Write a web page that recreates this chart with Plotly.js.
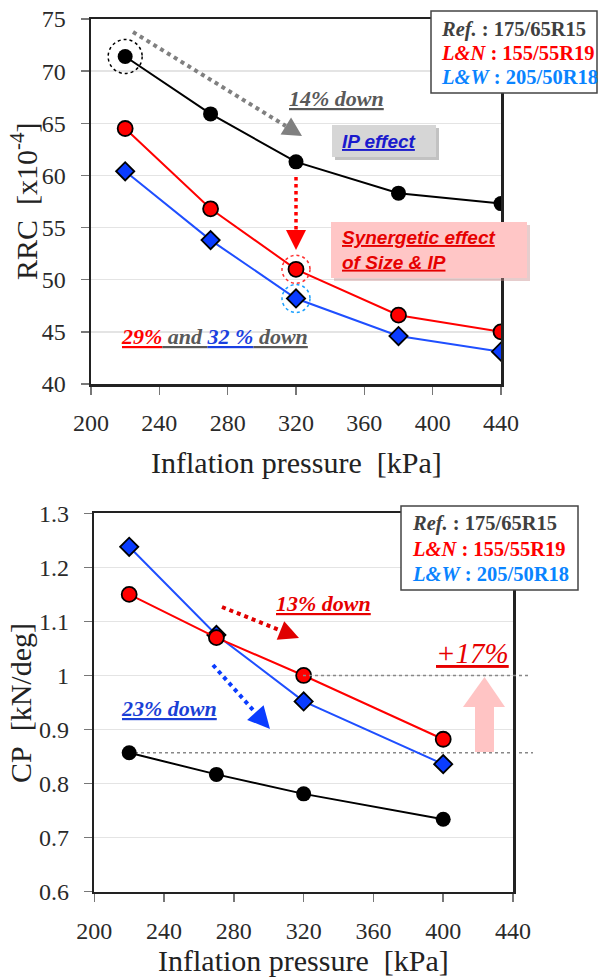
<!DOCTYPE html>
<html>
<head>
<meta charset="utf-8">
<script src="https://cdn.plot.ly/plotly-3.0.1.min.js"></script>
<style>html,body{margin:0;padding:0;background:#fff;}#chart{width:598px;height:977px;}</style>
</head>
<body>
<div id="chart"></div>
<script>
// ---------- data ----------
const pressureTop = [220, 270, 320, 380, 440];
const rrcRef = [71.4, 65.9, 61.3, 58.3, 57.3];
const rrcLN  = [64.5, 56.8, 51.0, 46.6, 45.0];
const rrcLW  = [60.4, 53.8, 48.2, 44.6, 43.1];

const pressureBottom = [220, 270, 320, 400];
const cpRef = [0.857, 0.817, 0.781, 0.734];
const cpLN  = [1.150, 1.070, 1.000, 0.882];
const cpLW  = [1.238, 1.075, 0.952, 0.836];

const xTicks = [200, 240, 280, 320, 360, 400, 440];
const rrcTicks = [40, 45, 50, 55, 60, 65, 70, 75];
const cpTicks = [0.6, 0.7, 0.8, 0.9, 1.0, 1.1, 1.2, 1.3];

const legendLabels = ['Ref.', 'L&amp;N', 'L&amp;W'];
const legendSizes = ['175/65R15', '155/55R19', '205/50R18'];
const legendColors = ['#404040', '#ff0000', '#0a84ff'];

// ---------- helpers (pixel -> paper) ----------
const W = 598, H = 977;
const X = p => p / W;
const Y = p => 1 - p / H;

function head(tipX, tipY, angDeg, len, half) {
  const a = angDeg * Math.PI / 180, ux = Math.cos(a), uy = Math.sin(a);
  const bx = tipX - len * ux, by = tipY - len * uy;
  const p1 = [bx - half * uy, by + half * ux], p2 = [bx + half * uy, by - half * ux];
  return 'M' + X(tipX) + ',' + Y(tipY) + ' L' + X(p1[0]) + ',' + Y(p1[1]) + ' L' + X(p2[0]) + ',' + Y(p2[1]) + ' Z';
}
function dottedArrow(x0, y0, tipX, tipY, len, half, color, w) {
  const ang = Math.atan2(tipY - y0, tipX - x0) * 180 / Math.PI;
  const a = ang * Math.PI / 180;
  const bx = tipX - len * Math.cos(a), by = tipY - len * Math.sin(a);
  return [
    {type: 'line', xref: 'paper', yref: 'paper', x0: X(x0), y0: Y(y0), x1: X(bx), y1: Y(by),
     line: {color: color, width: w, dash: w + 'px,' + w + 'px'}, layer: 'above'},
    {type: 'path', xref: 'paper', yref: 'paper', path: head(tipX, tipY, ang, len, half),
     fillcolor: color, line: {width: 0}, layer: 'above'}
  ];
}
function rectPx(x0, y0, x1, y1, fill, opacity, line) {
  return {type: 'rect', xref: 'paper', yref: 'paper', x0: X(x0), y0: Y(y1), x1: X(x1), y1: Y(y0),
          fillcolor: fill, opacity: opacity === undefined ? 1 : opacity, line: line || {width: 0}, layer: 'above'};
}
function ring(xref, yref, xv, yv, r, color) {
  return {type: 'circle', xref: xref, yref: yref, xsizemode: 'pixel', ysizemode: 'pixel',
          xanchor: xv, yanchor: yv, x0: -r, x1: r, y0: -r, y1: r,
          line: {color: color, width: 1.5, dash: 'dot'}, layer: 'above'};
}

// ---------- colours / fonts ----------
const cBlack = '#000000', cRed = '#ff0000', cBlue = '#1f4fff';
const serif = 'Liberation Serif';
const sans = 'Liberation Sans';

function series(x, y, xa, ya, color, sym, mcolor, msize, outline) {
  return {x: x, y: y, xaxis: xa, yaxis: ya, type: 'scatter', mode: 'lines+markers',
          line: {color: color, width: 2},
          marker: {symbol: sym, size: msize, color: mcolor, line: {color: '#000', width: outline}},
          hoverinfo: 'skip'};
}

const traces = [
  series(pressureTop, rrcRef, 'x', 'y', cBlack, 'circle', '#000', 15, 0),
  series(pressureTop, rrcLN, 'x', 'y', cRed, 'circle', '#ff0000', 15, 1.8),
  series(pressureTop, rrcLW, 'x', 'y', cBlue, 'diamond', '#0a3cff', 14, 1.8),
  series(pressureBottom, cpRef, 'x2', 'y2', cBlack, 'circle', '#000', 15, 0),
  series(pressureBottom, cpLW, 'x2', 'y2', cBlue, 'diamond', '#0a3cff', 14, 1.8),
  series(pressureBottom, cpLN, 'x2', 'y2', cRed, 'circle', '#ff0000', 15, 1.8)
];

const axCommon = {
  showline: true, mirror: true, linecolor: '#222', linewidth: 2.5,
  ticks: 'outside', ticklen: 8, tickwidth: 1.5, tickcolor: '#777',
  tickfont: {family: serif, size: 24, color: '#2a2a2a'},
  zeroline: false, fixedrange: true
};

const layout = {
  width: W, height: H, margin: {l: 0, r: 0, t: 0, b: 0},
  font: {family: serif},
  paper_bgcolor: '#fff', plot_bgcolor: '#fff', showlegend: false,
  xaxis: Object.assign({}, axCommon, {domain: [X(91), X(501)], range: [200, 440], tickvals: xTicks,
         showgrid: false, anchor: 'y', ticklabelstandoff: 8}),
  yaxis: Object.assign({}, axCommon, {domain: [Y(384), Y(19)], range: [40, 75], tickvals: rrcTicks,
         showgrid: true, gridcolor: '#e4e4e4', gridwidth: 1.5, anchor: 'x', ticklabelstandoff: 10}),
  xaxis2: Object.assign({}, axCommon, {domain: [X(94.3), X(513)], range: [200, 440], tickvals: xTicks,
         showgrid: false, anchor: 'y2', ticklabelstandoff: 8}),
  yaxis2: Object.assign({}, axCommon, {domain: [Y(891.7), Y(513.3)], range: [0.6, 1.3], tickvals: cpTicks,
         showgrid: true, gridcolor: '#e4e4e4', gridwidth: 1.5, anchor: 'x2', ticklabelstandoff: 10}),
  shapes: [],
  annotations: []
};

// ---------- top chart decorations ----------
layout.shapes.push(ring('x', 'y', pressureTop[0], rrcRef[0], 17, '#000'));
layout.shapes.push(...dottedArrow(133, 32, 302, 136, 19, 10, '#808080', 4));
layout.shapes.push(rectPx(335, 128, 439, 160, '#9a9a9a', 0.6));
layout.shapes.push(rectPx(332, 125, 436, 157, '#d6d6d6'));
layout.shapes.push(...dottedArrow(296, 177, 296, 250, 20, 10, '#ff0000', 3.5));
layout.shapes.push(ring('x', 'y', pressureTop[2], rrcLN[2], 14, '#ff3030'));
layout.shapes.push(ring('x', 'y', pressureTop[2], rrcLW[2], 14, '#1aa0ff'));
layout.shapes.push(rectPx(334, 225, 530, 281, '#c89090', 0.45));
layout.shapes.push(rectPx(331, 222, 527, 278, '#ffc6c6'));

// ---------- bottom chart decorations ----------
layout.shapes.push({type: 'line', xref: 'paper', yref: 'y2', x0: X(303), x1: X(530), y0: cpLN[2], y1: cpLN[2],
                    line: {color: '#888', width: 1.5, dash: 'dot'}, layer: 'above'});
layout.shapes.push({type: 'line', xref: 'paper', yref: 'y2', x0: X(135), x1: X(533), y0: cpRef[0], y1: cpRef[0],
                    line: {color: '#888', width: 1.5, dash: 'dot'}, layer: 'below'});
layout.shapes.push(...dottedArrow(222, 607, 299, 638, 20, 10, '#e00000', 4));
layout.shapes.push(...dottedArrow(213, 665, 270, 729, 22, 11, '#0a3cff', 4));
layout.shapes.push(rectPx(475, 705, 494, 752, '#ffc4c4'));
layout.shapes.push({type: 'path', xref: 'paper', yref: 'paper',
  path: 'M' + X(463) + ',' + Y(707) + ' L' + X(505) + ',' + Y(707) + ' L' + X(484.5) + ',' + Y(677) + ' Z',
  fillcolor: '#ffc4c4', line: {width: 0}, layer: 'above'});

// ---------- legend boxes ----------
layout.shapes.push(rectPx(431, 11, 597, 93, '#ffffff', 1, {color: '#444', width: 1.5}));
layout.shapes.push(rectPx(401, 506, 578, 590, '#ffffff', 1, {color: '#444', width: 1.5}));

function txt(xpx, ypx, text, font, xanchor, extra) {
  return Object.assign({xref: 'paper', yref: 'paper', x: X(xpx), y: Y(ypx), text: text, showarrow: false,
                        xanchor: xanchor || 'left', yanchor: 'middle', font: font, borderpad: 0}, extra || {});
}

const legendRowsTop = [30, 53.5, 77];
const legendRowsBottom = [523.5, 548.5, 573.5];
legendLabels.forEach((lab, i) => {
  const t = '<b><i>' + lab + '</i> : ' + legendSizes[i] + '</b>';
  layout.annotations.push(txt(440, legendRowsTop[i], t, {family: serif, size: 20.5, color: legendColors[i]}));
  layout.annotations.push(txt(411, legendRowsBottom[i], t, {family: serif, size: 20.5, color: legendColors[i]}));
});

layout.annotations.push(
  // axis titles
  txt(296, 462, 'Inflation pressure\u00a0 [kPa]', {family: serif, size: 30, color: '#222'}, 'center'),
  txt(303, 960, 'Inflation pressure\u00a0 [kPa]', {family: serif, size: 30, color: '#222'}, 'center'),
  txt(24, 201, 'RRC\u00a0 [x10<sup>-4</sup>]', {family: serif, size: 30, color: '#222'}, 'center', {textangle: -90}),
  txt(20, 703, 'CP\u00a0 [kN/deg]', {family: serif, size: 30, color: '#222'}, 'center', {textangle: -90}),
  // top chart texts
  txt(288, 99, '<b><i><u>14% down</u></i></b>', {family: serif, size: 22, color: '#595959'}),
  txt(379, 141, '<b><i><u>IP effect</u></i></b>', {family: sans, size: 19, color: '#1a1acd'}, 'center'),
  txt(341, 250, '<b><i><u>Synergetic effect</u><br><u>of Size &amp; IP</u></i></b>',
      {family: sans, size: 19, color: '#e60000'}, 'left', {align: 'left'}),
  txt(120, 337, '<b><i><span style="color:#ff0000"><u>29%</u></span><u> and </u>' +
      '<span style="color:#1a3fe0"><u>32 %</u></span><u> down</u></i></b>',
      {family: serif, size: 22, color: '#595959'}),
  // bottom chart texts
  txt(275, 603, '<b><i><u>13% down</u></i></b>', {family: serif, size: 22, color: '#e60000'}),
  txt(120, 708, '<b><i><u>23% down</u></i></b>', {family: serif, size: 22, color: '#1a3fd6'}),
  txt(472, 653, '<i><u>+17%</u></i>', {family: serif, size: 29, color: '#e60000'}, 'center')
);

Plotly.newPlot('chart', traces, layout, {displayModeBar: false, staticPlot: true});
</script>
</body>
</html>
